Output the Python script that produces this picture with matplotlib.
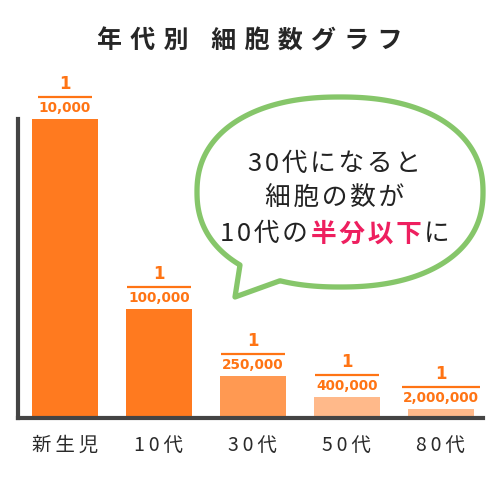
import matplotlib
matplotlib.use("Agg")
import matplotlib.pyplot as plt
import numpy as np
from matplotlib.path import Path
from matplotlib.patches import PathPatch
from matplotlib.lines import Line2D
from matplotlib.transforms import IdentityTransform

# ---- data ----
categories = ["新生児", "10代", "30代", "50代", "80代"]
bar_heights = [100, 36.5, 14.0, 7.0, 3.0]          # visual bar heights (relative)
numerators = ["1", "1", "1", "1", "1"]
denominators = ["10,000", "100,000", "250,000", "400,000", "2,000,000"]
bar_colors = ["#FF7A1F", "#FF7A1F", "#FF9952", "#FFB98A", "#FFB98A"]
title_words = ["年代別", "細胞数グラフ"]
bubble_lines = ["30代になると", "細胞の数が"]
bubble_last = ["10代の", "半分以下", "に"]

JP = ['Noto Sans CJK JP', 'DejaVu Sans']
plt.rcParams['font.family'] = JP

W, H = 500, 480
ORANGE = "#FF7414"
fig = plt.figure(figsize=(W / 100, H / 100), dpi=100)
fig.patch.set_facecolor("white")

def fx(px):
    return px / W

def fy(py):
    return 1 - py / H

def spread(s, sep):
    return sep.join(list(s))

ax = fig.add_axes([fx(18), fy(418), 465 / W, 299 / H])
x = np.arange(len(categories))
bars = ax.bar(x, bar_heights, width=0.70, color=bar_colors, zorder=2)
ax.set_xlim(-0.5, 4.45)
ax.set_ylim(0, 100)
for s in ["top", "right"]:
    ax.spines[s].set_visible(False)
for s in ["left", "bottom"]:
    ax.spines[s].set_linewidth(3)
    ax.spines[s].set_color("#444444")
    ax.spines[s].set_zorder(3)
ax.set_yticks([])
ax.set_xticks(x)
ax.set_xticklabels([spread(c, "\u2009") for c in categories], fontsize=14,
                   color="#2a2a2a")
ax.tick_params(axis="x", length=0, pad=12)

# fraction labels
den_texts = []
for i in range(len(categories)):
    t = ax.annotate(denominators[i], xy=(x[i], bar_heights[i]), xytext=(0, 5),
                    textcoords="offset points", ha="center", va="baseline",
                    fontsize=9.8, fontweight="bold", color=ORANGE,
                    family="DejaVu Sans", annotation_clip=False)
    den_texts.append(t)
    ax.annotate(numerators[i], xy=(x[i], bar_heights[i]), xytext=(0, 21.5),
                textcoords="offset points", ha="center", va="baseline",
                fontsize=12, fontweight="bold", color=ORANGE,
                family="DejaVu Sans", annotation_clip=False)

# title (letter-spaced)
title = ("\u2004\u2005\u2004").join(spread(w, "\u2004") for w in title_words)
fig.text(0.5, fy(41), title, ha="center", va="center", fontsize=18,
         fontweight="bold", color="#262626")

# speech bubble (superellipse + tail), screen px coords
cx, cy, a, b, n = 340, 192, 143, 95, 2.25
def se_point(t):
    c, s = np.cos(t), np.sin(t)
    return (cx + a * np.sign(c) * np.abs(c) ** (2 / n),
            cy + b * np.sign(s) * np.abs(s) ** (2 / n))
def t_for_x(dx):
    return np.pi - np.arccos((abs(dx) / a) ** (n / 2))
t_a = t_for_x(-60)    # near bottom
t_b = t_for_x(-100)   # lower-left side
ts = np.linspace(t_b, t_a + 2 * np.pi, 400)
pts = [se_point(t) for t in ts]
tip = (235, 297)
pts = pts + [tip, pts[0]]
verts = [(fx(px), fy(py)) for px, py in pts]
codes = [Path.MOVETO] + [Path.LINETO] * (len(verts) - 2) + [Path.CLOSEPOLY]
bubble = PathPatch(Path(verts, codes), transform=fig.transFigure,
                   facecolor="white", edgecolor="#86C66A", linewidth=3.8,
                   joinstyle="round", zorder=5)
fig.add_artist(bubble)

HS = "\u200a"
line_y = [164, 199, 234]
for ln, yy in zip(bubble_lines, line_y[:2]):
    fig.text(fx(335), fy(yy), spread(ln, HS), ha="center", va="center",
             fontsize=18.5, color="#222222", zorder=6)

renderer = fig.canvas.get_renderer()
colors_last = ["#222222", "#EE1F5F", "#222222"]
weights_last = ["normal", "bold", "normal"]
parts = []
for k, (s_, c_, w_) in enumerate(zip(bubble_last, colors_last, weights_last)):
    txt = spread(s_, HS) + (HS if k < len(bubble_last) - 1 else "")
    t = fig.text(0, fy(line_y[2]), txt, ha="left", va="center", fontsize=18.5,
                 color=c_, fontweight=w_, zorder=6)
    parts.append(t)
widths = [p.get_window_extent(renderer).width for p in parts]
total = sum(widths)
left = 335 - total / 2
for p, w in zip(parts, widths):
    p.set_x(fx(left))
    left += w

# fraction lines under numerators
fig.canvas.draw()
for i, t in enumerate(den_texts):
    bb = t.get_window_extent(renderer)
    top = ax.transData.transform((x[i], bar_heights[i]))[1]
    yl = top + 22
    fig.add_artist(Line2D([bb.x0 - 1, bb.x1 + 1], [yl, yl],
                          transform=IdentityTransform(), color=ORANGE,
                          linewidth=1.6, solid_capstyle="butt"))

fig.savefig("out.png", dpi=100)
